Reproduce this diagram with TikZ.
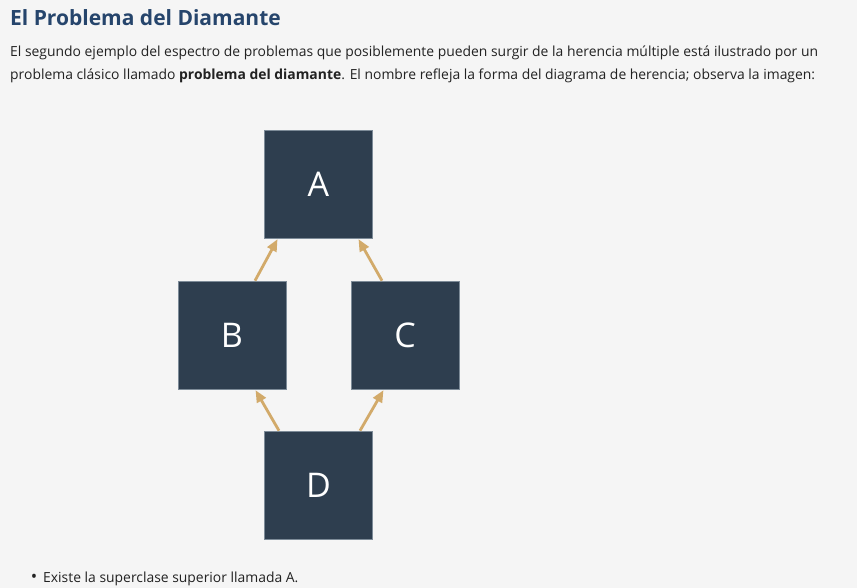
\documentclass[tikz,border=0pt]{standalone}
\usepackage{fontspec}
\setmainfont{Open Sans}
\usepackage{tikz}
\usetikzlibrary{arrows.meta,positioning}

\definecolor{pagebg}{HTML}{F5F5F5}
\definecolor{boxfill}{HTML}{2E3E4F}
\definecolor{boxline}{HTML}{7D8B98}
\definecolor{arrowtan}{HTML}{D2AA6A}
\definecolor{titleblue}{HTML}{26456C}
\definecolor{bodytext}{HTML}{222222}

\begin{document}
\begin{tikzpicture}[x=1pt,y=-1pt,on grid,
    clase/.style={draw=boxline,line width=0.6pt,fill=boxfill,text=white,
      minimum size=108pt,inner sep=0pt,font=\fontsize{34}{34}\selectfont},
    hereda/.style={-{Triangle[length=12pt,width=10pt]},draw=arrowtan,line width=2.8pt,shorten >=1pt},
    texto/.style={anchor=base west,inner sep=0pt,text=bodytext,font=\fontsize{13.9}{18}\selectfont}]
  \fill[pagebg] (0,0) rectangle (857,588);
  \useasboundingbox (0,0) rectangle (857,588);

  \node[anchor=base west,inner sep=0pt,text=titleblue,font=\fontsize{21}{24}\selectfont\bfseries]
    (titulo) at (10,26) {El Problema del Diamante};
  \node[texto] (linea1) at (10,57) {El segundo ejemplo del espectro de problemas que posiblemente pueden surgir de la herencia múltiple está ilustrado por un};
  \node[texto] (linea2) at (10,80) {problema clásico llamado \textbf{problema del diamante}. El nombre refleja la forma del diagrama de herencia; observa la imagen:};

  \node[clase] (A) at (318.5,184) {A};
  \node[clase] (B) [below left=151pt and 86.5pt of A] {B};
  \node[clase] (C) [below right=151pt and 86.5pt of A] {C};
  \node[clase] (D) [below=301pt of A] {D};

  \draw[hereda] ([xshift=23pt]B.north) -- ([xshift=-40.5pt]A.south);
  \draw[hereda] ([xshift=-23pt]C.north) -- ([xshift=39.5pt]A.south);
  \draw[hereda] ([xshift=-39.5pt]D.north) -- ([xshift=23pt]B.south);
  \draw[hereda] ([xshift=41.5pt]D.north) -- ([xshift=-21pt]C.south);

  \node[anchor=base,inner sep=0pt,text=bodytext,font=\fontsize{17}{17}\selectfont] (punto) at (34,582) {\textbullet};
  \node[texto] (item1) at (43,582) {Existe la superclase superior llamada A.};
\end{tikzpicture}
\end{document}
